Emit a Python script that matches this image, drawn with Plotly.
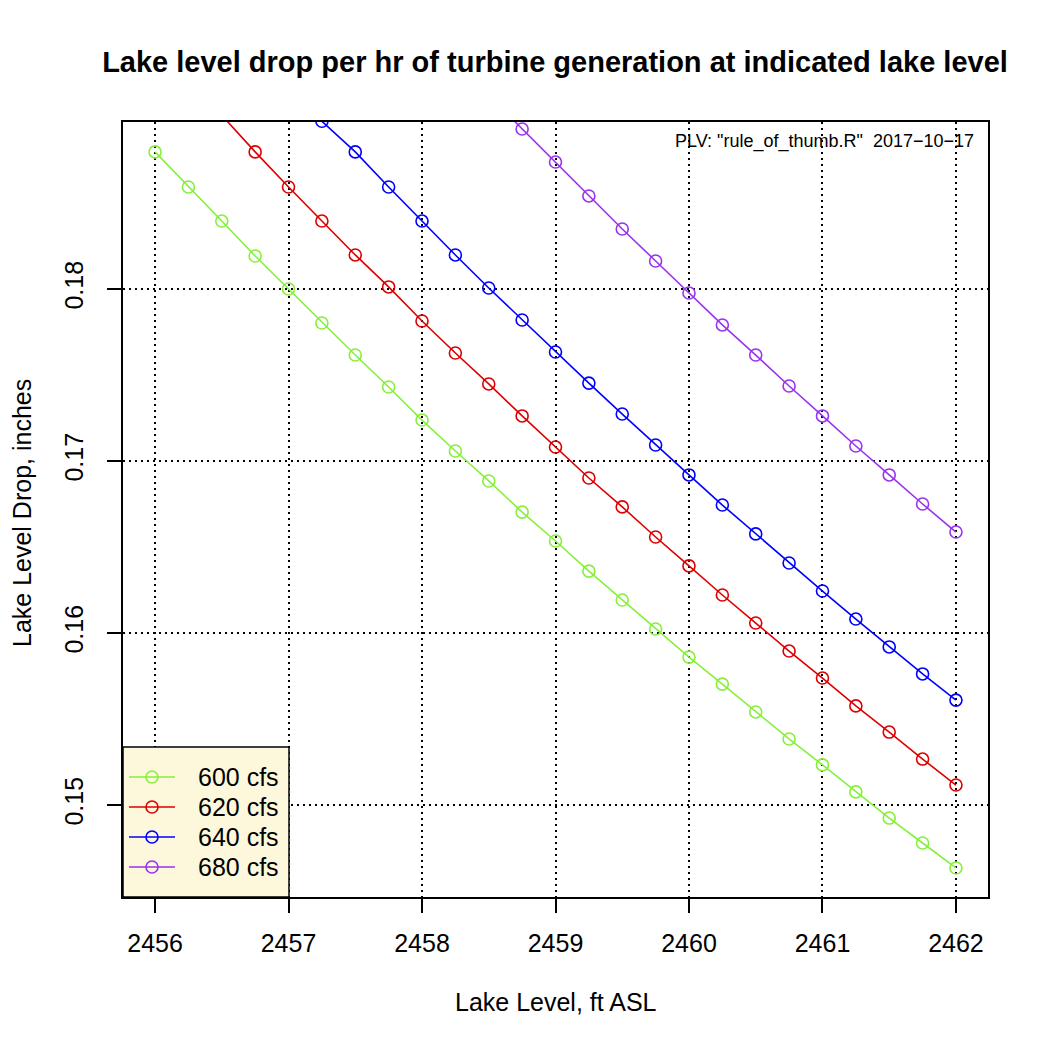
import plotly.graph_objects as go

# ---- data ----
x_600 = [2456.0, 2456.25, 2456.5, 2456.75, 2457.0, 2457.25, 2457.5, 2457.75, 2458.0,
         2458.25, 2458.5, 2458.75, 2459.0, 2459.25, 2459.5, 2459.75, 2460.0, 2460.25,
         2460.5, 2460.75, 2461.0, 2461.25, 2461.5, 2461.75, 2462.0]
y_600 = [0.18797, 0.18593, 0.18395, 0.18192, 0.18000, 0.17802, 0.17616, 0.17430, 0.17238,
         0.17058, 0.16884, 0.16703, 0.16535, 0.16360, 0.16192, 0.16023, 0.15860, 0.15703,
         0.15541, 0.15384, 0.15233, 0.15076, 0.14924, 0.14779, 0.14634]

x_620 = [2456.5, 2456.75, 2457.0, 2457.25, 2457.5, 2457.75, 2458.0, 2458.25, 2458.5,
         2458.75, 2459.0, 2459.25, 2459.5, 2459.75, 2460.0, 2460.25, 2460.5, 2460.75,
         2461.0, 2461.25, 2461.5, 2461.75, 2462.0]
y_620 = [0.19010, 0.18797, 0.18593, 0.18395, 0.18198, 0.18012, 0.17814, 0.17628, 0.17448,
         0.17262, 0.17081, 0.16901, 0.16733, 0.16558, 0.16390, 0.16221, 0.16058, 0.15895,
         0.15738, 0.15576, 0.15424, 0.15267, 0.15116]

x_640 = [2457.25, 2457.5, 2457.75, 2458.0, 2458.25, 2458.5, 2458.75, 2459.0, 2459.25,
         2459.5, 2459.75, 2460.0, 2460.25, 2460.5, 2460.75, 2461.0, 2461.25, 2461.5,
         2461.75, 2462.0]
y_640 = [0.18975, 0.18797, 0.18593, 0.18395, 0.18198, 0.18006, 0.17820, 0.17634, 0.17453,
         0.17273, 0.17093, 0.16919, 0.16744, 0.16576, 0.16407, 0.16244, 0.16081, 0.15919,
         0.15762, 0.15610]

x_680 = [2458.5, 2458.75, 2459.0, 2459.25, 2459.5, 2459.75, 2460.0, 2460.25, 2460.5,
         2460.75, 2461.0, 2461.25, 2461.5, 2461.75, 2462.0]
y_680 = [0.19125, 0.18930, 0.18738, 0.18541, 0.18349, 0.18163, 0.17977, 0.17791, 0.17616,
         0.17436, 0.17262, 0.17087, 0.16919, 0.16750, 0.16587]

series_names = ["600 cfs", "620 cfs", "640 cfs", "680 cfs"]
series_colors = ["#86F03A", "#DD0000", "#0000FF", "#9933EE"]

x_ticks = [2456, 2457, 2458, 2459, 2460, 2461, 2462]
x_tick_text = ["2456", "2457", "2458", "2459", "2460", "2461", "2462"]
y_ticks = [0.15, 0.16, 0.17, 0.18]
y_tick_text = ["0.15", "0.16", "0.17", "0.18"]

title_text = "Lake level drop per hr of turbine generation at indicated lake level"
x_title = "Lake Level, ft ASL"
y_title = "Lake Level Drop, inches"
note_text = 'PLV: "rule_of_thumb.R"  2017\u221210\u221217'

FONT = "Liberation Sans, Arial, Helvetica, sans-serif"

# page offset introduced by the html body margin
OFF = 8
PL, PR, PT, PB = 123, 988, 122, 897  # plot area in page pixels
PW, PH = PR - PL, PB - PT


def px_x(p):
    return (p - PL) / PW


def px_y(p):
    return (PB - p) / PH


fig = go.Figure()
for xs, ys, name, col in zip([x_600, x_620, x_640, x_680],
                             [y_600, y_620, y_640, y_680],
                             series_names, series_colors):
    fig.add_trace(go.Scatter(
        x=xs, y=ys, name=name, mode="lines+markers",
        line=dict(color=col, width=1.6),
        marker=dict(symbol="circle-open", size=12, color=col, line=dict(width=1.6, color=col)),
        cliponaxis=True, showlegend=False,
    ))

axis_common = dict(
    showline=True, linecolor="black", linewidth=2, mirror=True,
    ticks="outside", ticklen=14, tickwidth=1.5, tickcolor="black",
    showgrid=True, gridcolor="black", gridwidth=1.6, griddash="2px,4px",
    zeroline=False,
    tickfont=dict(family=FONT, size=25, color="black"),
)

fig.update_xaxes(range=[2455.76, 2462.24], tickmode="array", tickvals=x_ticks,
                 ticktext=x_tick_text, ticklabelstandoff=9, **axis_common)
fig.update_yaxes(range=[0.144651, 0.189709], tickmode="array", tickvals=y_ticks,
                 ticktext=y_tick_text, tickangle=-90, ticklabelstandoff=14, **axis_common)

# ---- legend drawn by hand (R style box) ----
shapes = [dict(type="rect", xref="paper", yref="paper",
               x0=px_x(123), x1=px_x(289), y0=px_y(897), y1=px_y(747),
               fillcolor="#FDF8DC", line=dict(color="black", width=1.5), layer="above")]
annotations = []
row_y = [777, 807, 837, 867]
for name, col, ry in zip(series_names, series_colors, row_y):
    shapes.append(dict(type="line", xref="paper", yref="paper",
                       x0=px_x(129), x1=px_x(175), y0=px_y(ry), y1=px_y(ry),
                       line=dict(color=col, width=1.6), layer="above"))
    shapes.append(dict(type="circle", xref="paper", yref="paper",
                       xsizemode="pixel", ysizemode="pixel",
                       xanchor=px_x(152), yanchor=px_y(ry),
                       x0=-6, x1=6, y0=-6, y1=6,
                       line=dict(color=col, width=1.6), fillcolor="rgba(0,0,0,0)",
                       layer="above"))
    annotations.append(dict(text=name, xref="paper", yref="paper",
                            x=px_x(196), y=px_y(ry), xanchor="left", yanchor="middle",
                            showarrow=False, font=dict(family=FONT, size=25, color="black")))

annotations += [
    dict(text=x_title, xref="paper", yref="paper", x=0.5, y=px_y(1002),
         xanchor="center", yanchor="middle", showarrow=False,
         font=dict(family=FONT, size=25, color="black")),
    dict(text=y_title, xref="paper", yref="paper", x=px_x(22), y=px_y(513),
         xanchor="center", yanchor="middle", showarrow=False, textangle=-90,
         font=dict(family=FONT, size=25, color="black")),
    dict(text=note_text, xref="paper", yref="paper", x=px_x(976),
         y=px_y(141), xanchor="right", yanchor="middle", showarrow=False,
         font=dict(family=FONT, size=18, color="black")),
]

fig.update_layout(
    width=1050, height=1050,
    margin=dict(l=PL - OFF, r=1050 - PR + OFF, t=PT - OFF, b=1050 - PB + OFF, autoexpand=False),
    paper_bgcolor="white", plot_bgcolor="white",
    font=dict(family=FONT, color="black"),
    title=dict(text="<b>" + title_text + "</b>", x=(555 - OFF) / 1050, xanchor="center",
               y=1 - (62 - OFF) / 1050, yanchor="middle", yref="container",
               font=dict(family=FONT, size=29, color="black")),
    showlegend=False,
    shapes=shapes,
    annotations=annotations,
)

fig.write_html("out.html")
